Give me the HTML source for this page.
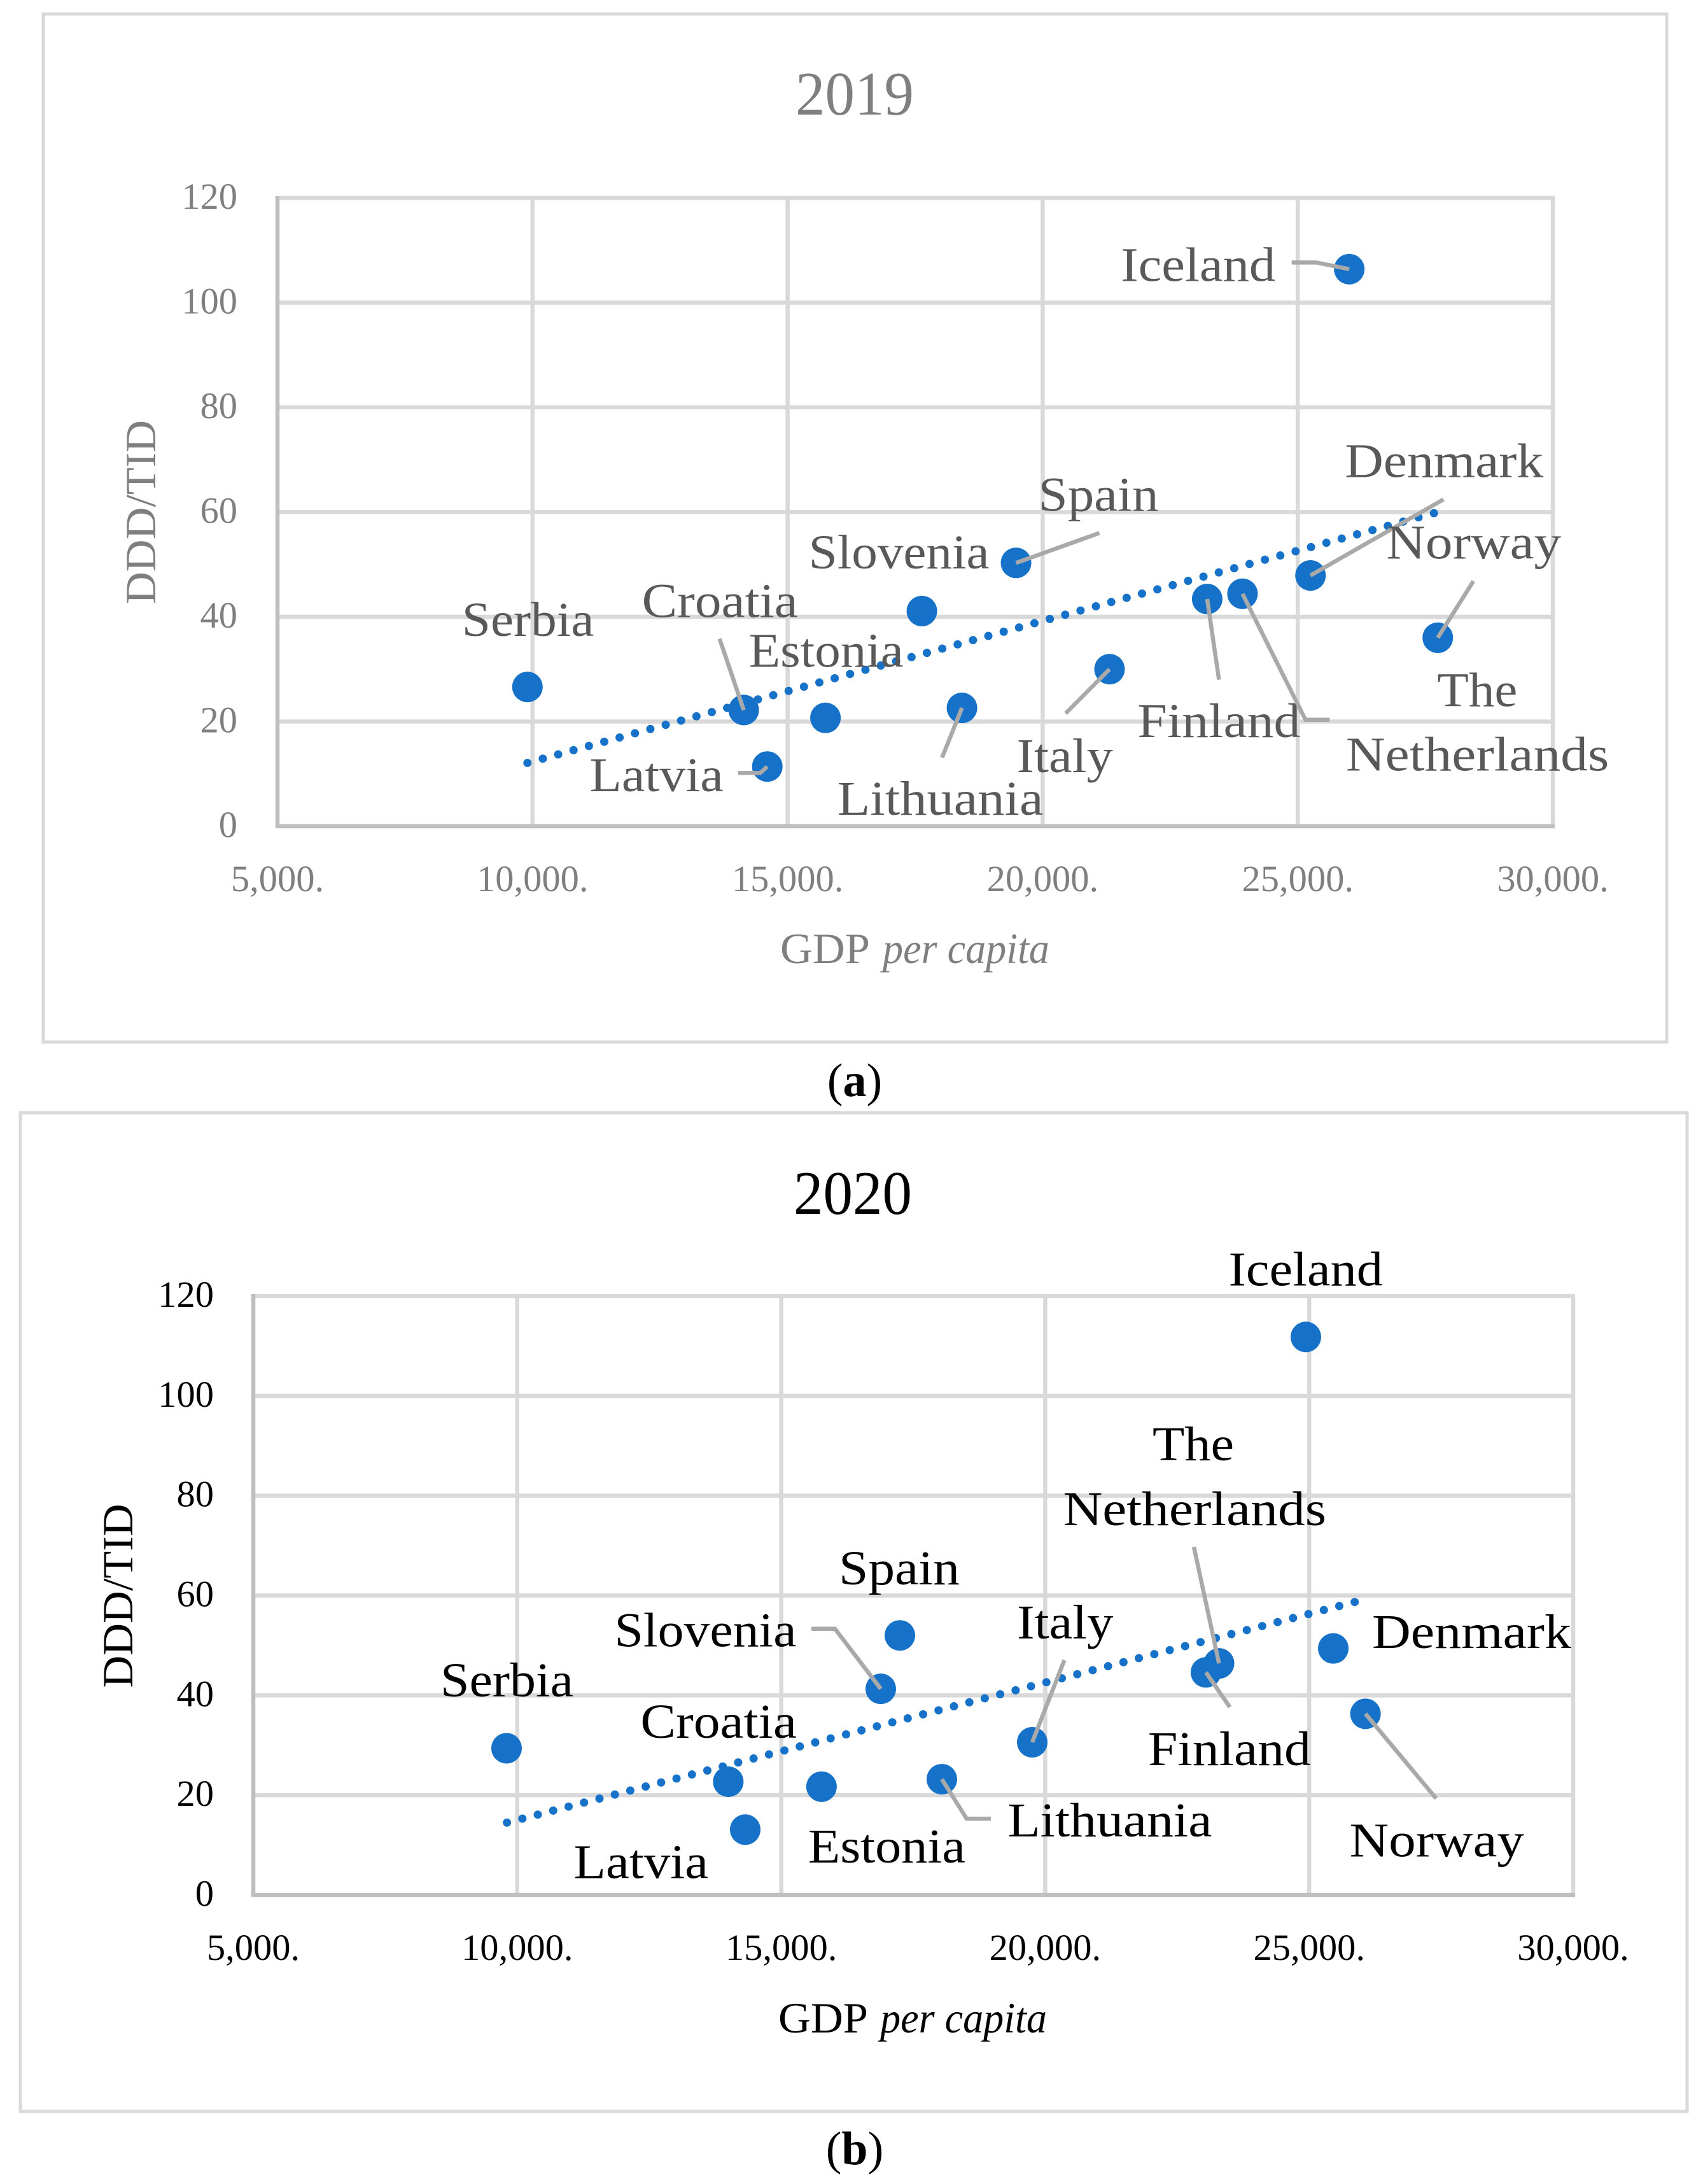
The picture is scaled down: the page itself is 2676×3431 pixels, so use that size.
<!DOCTYPE html>
<html lang="en">
<head>
<meta charset="utf-8">
<title>DDD/TID vs GDP per capita, 2019 and 2020</title>
<style>
  html, body { margin: 0; padding: 0; background: #ffffff; }
  svg { display: block; }
  text { font-family: "Liberation Serif", serif; }
</style>
</head>
<body>
<svg id="figure" xmlns="http://www.w3.org/2000/svg" width="2676" height="3431" viewBox="0 0 2676 3431">
  <rect x="0" y="0" width="2676" height="3431" fill="#ffffff"/>
  <rect x="68" y="22" width="2551" height="1615" fill="#ffffff" stroke="#d9d9d9" stroke-width="5"/>
  <rect x="32" y="1748" width="2619" height="1569" fill="#ffffff" stroke="#d9d9d9" stroke-width="5"/>
  <g id="chart-2019"></g>
  <g id="chart-2020"></g>
  <text x="1343" y="1722" font-size="74" text-anchor="middle" fill="#000000">(<tspan font-weight="bold">a</tspan>)</text>
  <text x="1343" y="3400" font-size="74" text-anchor="middle" fill="#000000">(<tspan font-weight="bold">b</tspan>)</text>
</svg>

<script>
// ---- Chart data ----
const xTickValues = [5000, 10000, 15000, 20000, 25000, 30000];
const xTickLabels = ['5,000.', '10,000.', '15,000.', '20,000.', '25,000.', '30,000.'];
const yTickValues = [0, 20, 40, 60, 80, 100, 120];
const yTickLabels = ['0', '20', '40', '60', '80', '100', '120'];

const countries2019 = ['Iceland', 'Denmark', 'Spain', 'Slovenia', 'Finland', 'The Netherlands', 'Norway', 'Italy', 'Lithuania', 'Serbia', 'Croatia', 'Estonia', 'Latvia'];
const gdp2019 = [26010, 25250, 19478, 17632, 23225, 23917, 27745, 21311, 18418, 9900, 14140, 15742, 14602];
const ddd2019 = [106.4, 47.9, 50.3, 41.1, 43.4, 44.4, 36.0, 30.0, 22.6, 26.6, 22.2, 20.7, 11.4];
const trendGdp2019 = [9900, 27670];
const trendDdd2019 = [12.1, 59.8];

const countries2020 = ['Iceland', 'Denmark', 'Norway', 'The Netherlands', 'Finland', 'Italy', 'Lithuania', 'Slovenia', 'Spain', 'Estonia', 'Latvia', 'Croatia', 'Serbia'];
const gdp2020 = [24937, 25456, 26066, 23292, 23044, 19754, 18042, 16885, 17247, 15763, 14318, 13997, 9797];
const ddd2020 = [111.8, 49.4, 36.3, 46.4, 44.6, 30.6, 23.2, 41.3, 52.0, 21.7, 13.1, 22.7, 29.4];
const trendGdp2020 = [9805, 25862];
const trendDdd2020 = [14.5, 58.7];

// ---- Annotation layout (pixel offsets from each marker) ----
const annotations2019 = {
  'Iceland': { lines: [['Iceland', -357, 18.5, 239]], leader: [[-90.5, -10.5], [-52, -10.5]] },
  'Denmark': { lines: [['Denmark', 56, -154.5, 308]], leader: [[209, -119.5]] },
  'Spain': { lines: [['Spain', 37, -82, 185]], leader: [[131, -47]] },
  'Slovenia': { lines: [['Slovenia', -176, -67, 280]], leader: [] },
  'Finland': { lines: [['Finland', -107.5, 217, 252]], leader: [[18.5, 126.6]] },
  'The Netherlands': { lines: [['The', 308, 176.5, 122], ['Netherlands', 164.5, 277.5, 409.5]], leader: [[137, 198], [99, 198]] },
  'Norway': { lines: [['Norway', -79, -124.6, 271]], leader: [[56, -89]] },
  'Italy': { lines: [['Italy', -144, 161.5, 147.5]], leader: [[-69, 69.5]] },
  'Lithuania': { lines: [['Lithuania', -194, 168, 320]], leader: [[-31.3, 78]] },
  'Serbia': { lines: [['Serbia', -101, -80, 203.6]], leader: [] },
  'Croatia': { lines: [['Croatia', -158, -146, 241]], leader: [[-38, -112]] },
  'Estonia': { lines: [['Estonia', -118.4, -80, 239]], leader: [] },
  'Latvia': { lines: [['Latvia', -277, 39, 206]], leader: [[-46, 10], [-11, 10]] }
};
const annotations2020 = {
  'Iceland': { lines: [['Iceland', -119.5, -81, 238.5]], leader: [] },
  'Denmark': { lines: [['Denmark', 63, -0.7, 309]], leader: [] },
  'Norway': { lines: [['Norway', -23, 224, 270.4]], leader: [[111, 133]] },
  'The Netherlands': { lines: [['The', -102.5, -319, 124], ['Netherlands', -243, -217, 409.5]], leader: [[-39.5, -183]] },
  'Finland': { lines: [['Finland', -89, 145.5, 252]], leader: [[37.5, 54.5]] },
  'Italy': { lines: [['Italy', -22, -163, 147.5]], leader: [[50.5, -129]] },
  'Lithuania': { lines: [['Lithuania', 105.5, 90, 317]], leader: [[77, 62], [39, 62]] },
  'Slovenia': { lines: [['Slovenia', -416.5, -66.4, 282]], leader: [[-109, -94.4], [-72, -94.4]] },
  'Spain': { lines: [['Spain', -94, -80, 186]], leader: [] },
  'Estonia': { lines: [['Estonia', -19, 119.3, 243]], leader: [] },
  'Latvia': { lines: [['Latvia', -267.6, 76, 207.6]], leader: [] },
  'Croatia': { lines: [['Croatia', -136, -69, 241.6]], leader: [] },
  'Serbia': { lines: [['Serbia', -102, -81.6, 205]], leader: [] }
};

const SVG_NS = 'http://www.w3.org/2000/svg';

function makeEl(parent, tag, name, attrs) {
  const el = document.createElementNS(SVG_NS, tag);
  
  
  for (const key in attrs) { el.setAttribute(key, attrs[key]); }
  parent.appendChild(el);
  return el;
}

function makeText(parent, name, str, attrs) {
  const el = makeEl(parent, 'text', name, attrs);
  el.textContent = str;
  return el;
}

function drawChart(cfg) {
  const root = document.getElementById(cfg.rootId);
  const xScale = v => cfg.left + (v - 5000) / 25000 * (cfg.right - cfg.left);
  const yScale = v => cfg.bottom - v / 120 * (cfg.bottom - cfg.top);

  // Gridlines
  xTickValues.forEach((v, i) => {
    if (i === 0) return;
    makeEl(root, 'line', 'vertical-gridline-' + v, {
      x1: xScale(v), x2: xScale(v), y1: cfg.top, y2: cfg.bottom,
      stroke: '#d9d9d9', 'stroke-width': 6.5
    });
  });
  yTickValues.forEach((v, i) => {
    if (i === 0) return;
    makeEl(root, 'line', 'horizontal-gridline-' + v, {
      x1: cfg.left, x2: cfg.right + 3, y1: yScale(v), y2: yScale(v),
      stroke: '#d9d9d9', 'stroke-width': 6.5
    });
  });

  // Axes
  makeEl(root, 'line', 'y-axis-line', {
    x1: cfg.left, x2: cfg.left, y1: cfg.top - 3, y2: cfg.bottom + 3,
    stroke: '#bfbfbf', 'stroke-width': 6.5
  });
  makeEl(root, 'line', 'x-axis-line', {
    x1: cfg.left, x2: cfg.right + 3, y1: cfg.bottom, y2: cfg.bottom,
    stroke: '#bfbfbf', 'stroke-width': 6.5
  });

  // Tick labels
  xTickValues.forEach((v, i) => {
    makeText(root, 'x-tick-label-' + v, xTickLabels[i], {
      x: xScale(v), y: cfg.xTickBaseline, 'font-size': 58.5,
      'text-anchor': 'middle', fill: cfg.tickColor
    });
  });
  yTickValues.forEach((v, i) => {
    makeText(root, 'y-tick-label-' + v, yTickLabels[i], {
      x: cfg.yTickRight, y: yScale(v) + 17, 'font-size': 58.5,
      'text-anchor': 'end', fill: cfg.tickColor
    });
  });

  // Titles
  makeText(root, 'chart-title', cfg.title, {
    x: cfg.titleX, y: cfg.titleBaseline, 'font-size': 97, 'text-anchor': 'middle',
    fill: cfg.tickColor, textLength: 186, lengthAdjust: 'spacingAndGlyphs'
  });
  makeText(root, 'x-axis-title-gdp', 'GDP', {
    x: cfg.gdpX, y: cfg.xTitleBaseline, 'font-size': 68, fill: cfg.tickColor,
    textLength: 141, lengthAdjust: 'spacingAndGlyphs'
  });
  makeText(root, 'x-axis-title-per-capita', 'per capita', {
    x: cfg.perCapitaX, y: cfg.xTitleBaseline, 'font-size': 68, 'font-style': 'italic',
    fill: cfg.tickColor, textLength: 262, lengthAdjust: 'spacingAndGlyphs'
  });
  makeText(root, 'y-axis-title', 'DDD/TID', {
    x: 0, y: 0, 'font-size': 68, 'text-anchor': 'middle', fill: cfg.tickColor,
    textLength: 289, lengthAdjust: 'spacingAndGlyphs',
    transform: 'translate(' + cfg.yTitleX + ' ' + cfg.yTitleY + ') rotate(-90)'
  });

  // Trendline: dot spacing is fitted so a dot lands exactly on the line end
  const tx1 = xScale(cfg.trendX[0]);
  const ty1 = yScale(cfg.trendY[0]);
  const tx2 = xScale(cfg.trendX[1]);
  const ty2 = yScale(cfg.trendY[1]);
  const trendLength = Math.hypot(tx2 - tx1, ty2 - ty1);
  const dotPeriod = trendLength / Math.round(trendLength / 25.2);
  makeEl(root, 'line', 'trendline', {
    x1: tx1, y1: ty1, x2: tx2, y2: ty2,
    stroke: '#1672c9', 'stroke-width': 13, 'stroke-linecap': 'round',
    'stroke-dasharray': '0 ' + (dotPeriod - 0.001)
  });

  // Markers
  cfg.names.forEach((country, i) => {
    makeEl(root, 'circle', 'point-' + country.toLowerCase().replace(/ /g, '-'), {
      cx: xScale(cfg.gdp[i]), cy: yScale(cfg.ddd[i]), r: 24, fill: '#1672c9'
    });
  });

  // Leaders and labels, anchored to each marker
  cfg.names.forEach((country, i) => {
    const px = xScale(cfg.gdp[i]);
    const py = yScale(cfg.ddd[i]);
    const note = cfg.notes[country];
    const slug = country.toLowerCase().replace(/ /g, '-');
    if (note.leader.length) {
      const pts = note.leader.map(o => (px + o[0]) + ',' + (py + o[1]));
      pts.push(px + ',' + py);
      makeEl(root, 'polyline', 'leader-' + slug, {
        points: pts.join(' '), fill: 'none', stroke: '#a9a9a9', 'stroke-width': 6.5
      });
    }
    note.lines.forEach((line, j) => {
      makeText(root, 'label-' + slug + '-' + j, line[0], {
        x: px + line[1] - 2, y: py + line[2], 'font-size': 76, fill: cfg.labelColor,
        textLength: line[3] + 4, lengthAdjust: 'spacingAndGlyphs'
      });
    });
  });
}

drawChart({
  rootId: 'chart-2019', title: '2019',
  left: 436, right: 2440, top: 311, bottom: 1298,
  tickColor: '#7f7f7f', labelColor: '#595959',
  xTickBaseline: 1400, yTickRight: 373,
  titleX: 1343, titleBaseline: 180,
  gdpX: 1226, perCapitaX: 1387, xTitleBaseline: 1513,
  yTitleX: 244, yTitleY: 804.5,
  names: countries2019, gdp: gdp2019, ddd: ddd2019,
  trendX: trendGdp2019, trendY: trendDdd2019, notes: annotations2019
});

drawChart({
  rootId: 'chart-2020', title: '2020',
  left: 398, right: 2472, top: 2036, bottom: 2977,
  tickColor: '#000000', labelColor: '#000000',
  xTickBaseline: 3079, yTickRight: 336,
  titleX: 1340, titleBaseline: 1907,
  gdpX: 1223, perCapitaX: 1383, xTitleBaseline: 3193,
  yTitleX: 208, yTitleY: 2507,
  names: countries2020, gdp: gdp2020, ddd: ddd2020,
  trendX: trendGdp2020, trendY: trendDdd2020, notes: annotations2020
});
</script>
</body>
</html>
